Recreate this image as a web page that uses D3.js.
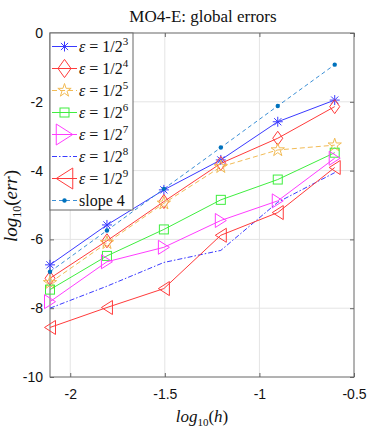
<!DOCTYPE html>
<html><head><meta charset="utf-8">
<script src="https://cdn.jsdelivr.net/npm/d3@7"></script>
<style>body{margin:0;background:#fff}svg{display:block}</style>
</head><body>
<svg id="c" width="392" height="436"></svg>
<script>
const logH = [-2.107, -1.806, -1.505, -1.204, -0.903, -0.602];
const eps3 = [-6.74, -5.58, -4.56, -3.69, -2.58, -1.95];
const eps4 = [-7.13, -6.04, -4.90, -3.79, -3.06, -2.14];
const eps5 = [-7.26, -6.10, -4.95, -3.89, -3.40, -3.26];
const eps6 = [-7.46, -6.48, -5.71, -4.85, -4.26, -3.48];
const eps7 = [-7.81, -6.65, -6.23, -5.45, -4.88, -3.64];
const eps8 = [-8.00, -7.36, -6.67, -6.32, -4.92, -4.06];
const eps9 = [-8.56, -7.98, -7.43, -5.88, -5.22, -3.91];
const slope4 = [-6.94, -5.74, -4.53, -3.33, -2.12, -0.92];
const xTicks = [-2, -1.5, -1, -0.5];
const yTicks = [0, -2, -4, -6, -8, -10];
const labels = ["3","4","5","6","7","8","9"];

const svg = d3.select("#c");
const L = 50, R = 354, T = 33, B = 377;
const x = d3.scaleLinear().domain([-2.107, -0.5]).range([L, R]);
const y = d3.scaleLinear().domain([-10, 0]).range([B, T]);

const series = [
  {v: eps3, c: "#3a3aff", dash: null, m: "asterisk"},
  {v: eps4, c: "#ff3b3b", dash: null, m: "diamond"},
  {v: eps5, c: "#f2bb55", dash: "5,3", m: "star"},
  {v: eps6, c: "#3fee3f", dash: null, m: "square"},
  {v: eps7, c: "#ff3cff", dash: null, m: "triR"},
  {v: eps8, c: "#3a3aff", dash: "5,2,1.5,2", m: null},
  {v: eps9, c: "#ff3b3b", dash: null, m: "triL"},
];

// grid
const g = svg.append("g");
g.selectAll(".gx").data(xTicks.slice(0,3)).join("line")
  .attr("x1", d => x(d)).attr("x2", d => x(d)).attr("y1", T).attr("y2", B)
  .attr("stroke", "#e4e4e4").attr("stroke-width", 1);
g.selectAll(".gy").data(yTicks.slice(1,5)).join("line")
  .attr("y1", d => y(d)).attr("y2", d => y(d)).attr("x1", L).attr("x2", R)
  .attr("stroke", "#e4e4e4").attr("stroke-width", 1);

// axes
const axB = d3.axisBottom(x).tickValues(xTicks).tickSize(-4).tickPadding(12).tickFormat(d => String(d));
const axL = d3.axisLeft(y).tickValues(yTicks).tickSize(-4).tickPadding(7).tickFormat(d => String(d));
const axT = d3.axisTop(x).tickValues(xTicks).tickSize(-4).tickFormat("");
const axR = d3.axisRight(y).tickValues(yTicks).tickSize(-4).tickFormat("");
function style(sel){
  sel.selectAll("path").attr("stroke", "#666").attr("stroke-width", 1);
  sel.selectAll("line").attr("stroke", "#666");
  sel.selectAll("text").attr("fill", "#111").attr("font-family", "Liberation Sans, Arial, sans-serif").attr("font-size", 14);
}
svg.append("g").attr("transform", `translate(0,${B})`).call(axB).call(style);
svg.append("g").attr("transform", `translate(${L},0)`).call(axL).call(style);
svg.append("g").attr("transform", `translate(0,${T})`).call(axT).call(style);
svg.append("g").attr("transform", `translate(${R},0)`).call(axR).call(style);
svg.selectAll(".domain").attr("d", null);
svg.append("rect").attr("x", L).attr("y", T).attr("width", R - L).attr("height", B - T)
  .attr("fill", "none").attr("stroke", "#666").attr("stroke-width", 1);

function marker(sel, type, c, s) {
  s = s || 1;
  if (type === "asterisk") {
    const r = 5 * s, q = r * 0.72;
    sel.append("path").attr("d", `M${-r},0H${r}M0,${-r}V${r}M${-q},${-q}L${q},${q}M${-q},${q}L${q},${-q}`)
      .attr("stroke", c).attr("stroke-width", 1).attr("fill", "none");
  } else if (type === "diamond") {
    const w = 5 * s, h = 7 * s;
    sel.append("path").attr("d", `M0,${-h}L${w},0L0,${h}L${-w},0Z`).attr("stroke", c).attr("fill", "none");
  } else if (type === "star") {
    sel.append("path").attr("d", d3.symbol(d3.symbolStar, 55 * s * s)()).attr("stroke", c).attr("fill", "none");
  } else if (type === "square") {
    const a = 4.5;
    sel.append("rect").attr("x", -a).attr("y", -a).attr("width", 2 * a).attr("height", 2 * a).attr("stroke", c).attr("fill", "none");
  } else if (type === "triR") {
    const w = 5.5 * s, h = 7 * s;
    sel.append("path").attr("d", `M${-w},${-h}L${w},0L${-w},${h}Z`).attr("stroke", c).attr("fill", "none");
  } else if (type === "triL") {
    const w = 5.5 * s, h = 7 * s;
    sel.append("path").attr("d", `M${w},${-h}L${-w},0L${w},${h}Z`).attr("stroke", c).attr("fill", "none");
  } else if (type === "dot") {
    sel.append("circle").attr("r", 2.2).attr("fill", "#0072bd");
  }
}

const line = d3.line().x((d, i) => x(logH[i])).y(d => y(d));
series.forEach(s => {
  svg.append("path").attr("d", line(s.v)).attr("fill", "none").attr("stroke", s.c)
    .attr("stroke-width", 1).attr("stroke-dasharray", s.dash);
  if (s.m) s.v.forEach((d, i) => {
    const gm = svg.append("g").attr("transform", `translate(${x(logH[i])},${y(d)})`);
    marker(gm, s.m, s.c);
  });
});
svg.append("path").attr("d", line(slope4)).attr("fill", "none").attr("stroke", "#3b8fd6")
  .attr("stroke-width", 1).attr("stroke-dasharray", "4,3");
slope4.forEach((d, i) => {
  marker(svg.append("g").attr("transform", `translate(${x(logH[i])},${y(d)})`), "dot");
});

// legend
const lg = svg.append("g");
lg.append("rect").attr("x", L).attr("y", T).attr("width", 83).attr("height", 177)
  .attr("fill", "#fff").attr("stroke", "#666").attr("stroke-width", 1);
const legScale = {asterisk: 1, diamond: 1.3, star: 1, square: 1, triR: 1.5, triL: 1.5};
const entries = series.map((s, i) => ({c: s.c, dash: s.dash, m: s.m, lab: labels[i]}));
entries.push({c: "#3b8fd6", dash: "4,3", m: "dot", lab: null});
entries.forEach((e, i) => {
  const yy = 46.5 + 22 * i;
  lg.append("line").attr("x1", 52).attr("x2", 77).attr("y1", yy).attr("y2", yy)
    .attr("stroke", e.c).attr("stroke-width", 1).attr("stroke-dasharray", e.dash);
  if (e.m) marker(lg.append("g").attr("transform", `translate(64.5,${yy})`), e.m, e.c, legScale[e.m]);
  const t = lg.append("text").attr("x", 79).attr("y", yy + 5)
    .attr("font-family", "Liberation Serif, Times New Roman, serif").attr("font-size", 16).attr("fill", "#111");
  if (e.lab) {
    t.append("tspan").attr("font-style", "italic").text("ε");
    t.append("tspan").text(" = 1/2");
    t.append("tspan").attr("font-size", 11).attr("dy", -7).text(e.lab);
  } else {
    t.text("slope 4");
  }
});

// title
svg.append("text").attr("x", 203).attr("y", 22).attr("text-anchor", "middle")
  .attr("font-family", "Liberation Serif, Times New Roman, serif").attr("font-size", 17).attr("fill", "#111")
  .text("MO4-E: global errors");

// axis labels
const xl = svg.append("text").attr("x", 202).attr("y", 422).attr("text-anchor", "middle")
  .attr("font-family", "Liberation Serif, Times New Roman, serif").attr("font-size", 17).attr("fill", "#111");
xl.append("tspan").attr("font-style", "italic").text("log");
xl.append("tspan").attr("font-size", 11).attr("dy", 4).text("10");
xl.append("tspan").attr("dy", -4).text("(");
xl.append("tspan").attr("font-style", "italic").text("h");
xl.append("tspan").text(")");

const yl = svg.append("text").attr("transform", "translate(17,206) rotate(-90)").attr("text-anchor", "middle")
  .attr("font-family", "Liberation Serif, Times New Roman, serif").attr("font-size", 19).attr("fill", "#111");
yl.append("tspan").attr("font-style", "italic").text("log");
yl.append("tspan").attr("font-size", 12).attr("dy", 4).text("10");
yl.append("tspan").attr("dy", -4).text("(");
yl.append("tspan").attr("font-style", "italic").text("err");
yl.append("tspan").text(")");
</script>
</body></html>
